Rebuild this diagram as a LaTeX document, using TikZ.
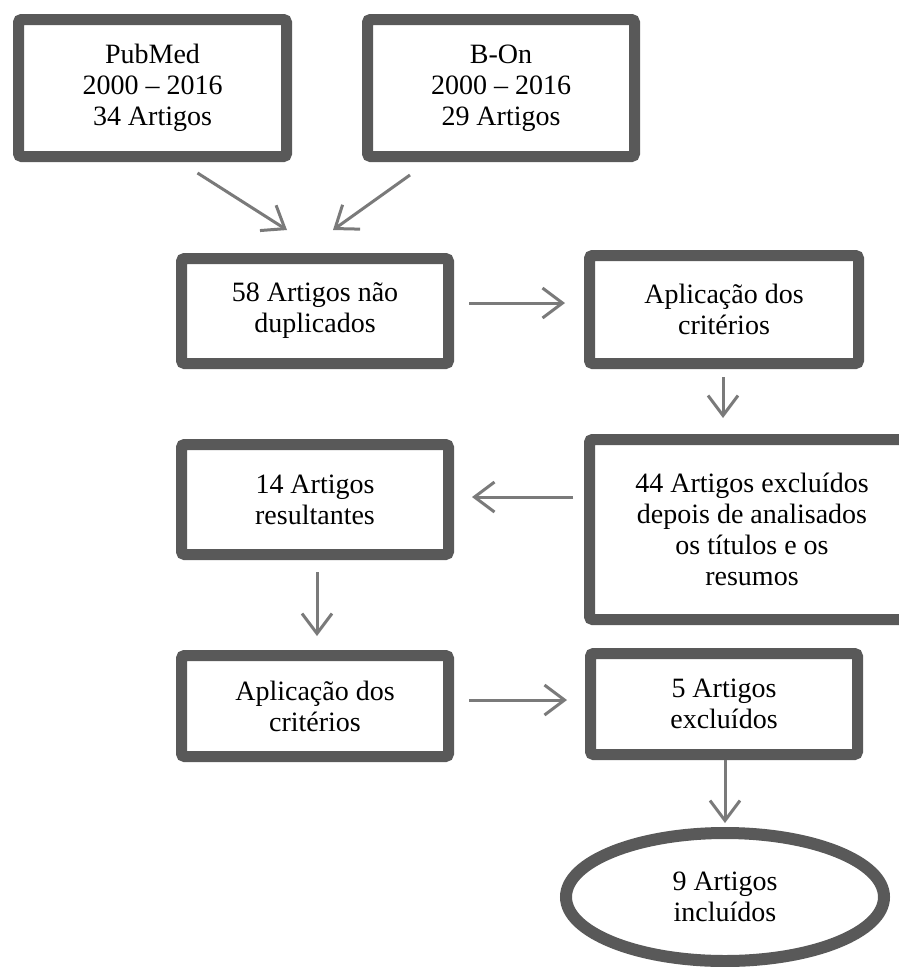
\documentclass[tikz,border=0pt]{standalone}
\usepackage{fontspec}
\setmainfont{Liberation Serif}
\usetikzlibrary{arrows.meta,shapes.geometric,calc}
\definecolor{boxgray}{HTML}{595959}
\definecolor{arrgray}{HTML}{7A7A7A}
\tikzset{
  flowbox/.style={draw=boxgray, line width=11pt, rounded corners=3pt, fill=white,
    align=center, inner sep=0pt, font=\fontsize{28}{31}\selectfont},
  endell/.style={ellipse, draw=boxgray, line width=12pt, fill=white,
    align=center, inner sep=0pt, font=\fontsize{28}{31}\selectfont},
  arr/.style={draw=arrgray, line width=3pt, -{Straight Barb[length=20pt,width=30pt]}}
}
\begin{document}
\begin{tikzpicture}[x=1pt,y=-1pt]
\clip (0,0) rectangle (899,967);
\fill[white] (0,0) rectangle (899,967);
\node[flowbox, minimum width=268pt, minimum height=137pt] (pub) at (152.5,88) {PubMed\\2000 – 2016\\34 Artigos};
\node[flowbox, minimum width=267pt, minimum height=137pt] (bon) at (501,88) {B-On\\2000 – 2016\\29 Artigos};
\node[flowbox, minimum width=267pt, minimum height=105pt] (dup) at (315,311) {58 Artigos não\\duplicados};
\node[flowbox, minimum width=269pt, minimum height=108pt] (ap1) at (724,309.5) {Aplicação dos\\critérios};
\node[flowbox, minimum width=325pt, minimum height=180pt] (ex44) at (752,529.5) {44 Artigos excluídos\\depois de analisados\\os títulos e os\\resumos};
\node[flowbox, minimum width=267pt, minimum height=110pt] (res) at (315,499.5) {14 Artigos\\resultantes};
\node[flowbox, minimum width=267pt, minimum height=101pt] (ap2) at (315,706) {Aplicação dos\\critérios};
\node[flowbox, minimum width=267pt, minimum height=101pt] (ex5) at (724,704) {5 Artigos\\excluídos};
\node[endell, minimum width=318pt, minimum height=128pt] (inc) at (725,897) {9 Artigos\\incluídos};
\draw[arr] ([shift={(45,11)}]pub.south) -- ([shift={(-28,-23)}]dup.north);
\draw[arr] ([shift={(-91,13)}]bon.south) -- ([shift={(18,-23)}]dup.north);
\draw[arr] ([shift={(15,-8)}]dup.east) -- ([shift={(-19,-6.5)}]ap1.west);
\draw[arr] ([shift={(-1,8)}]ap1.south) -- ($(ap1.south |- ex44.north)+(-1,-16)$);
\draw[arr] ([shift={(-11,-32.5)}]ex44.west) -- ([shift={(18,-2.5)}]res.east);
\draw[arr] ([shift={(2,12)}]res.south) -- ([shift={(2,-14)}]ap2.north);
\draw[arr] ([shift={(15,-6)}]ap2.east) -- ([shift={(-18,-4)}]ex5.west);
\draw[arr] ([shift={(1,0)}]ex5.south) -- ([shift={(0,-4)}]inc.north);
\end{tikzpicture}
\end{document}
